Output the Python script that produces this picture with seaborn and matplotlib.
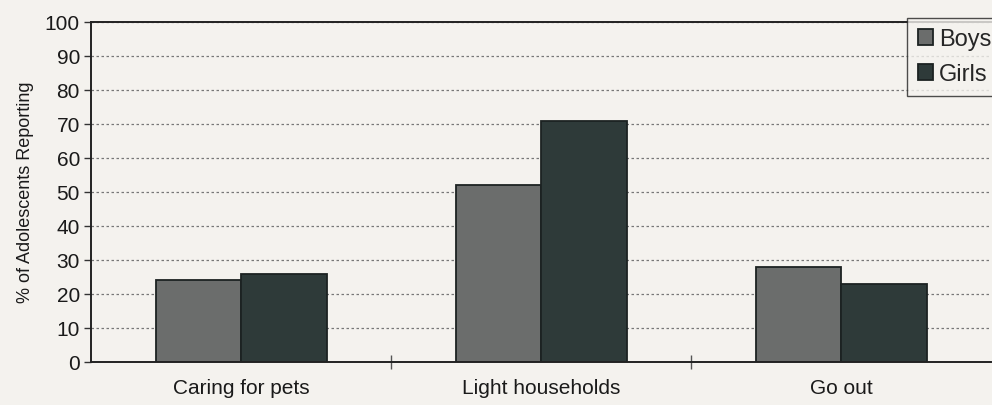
import matplotlib
matplotlib.use("Agg")
import matplotlib.pyplot as plt
import seaborn as sns
import pandas as pd
from matplotlib.ticker import FixedLocator

categories = ["Caring for pets", "Light households", "Go out"]
boys = [24, 52, 28]
girls = [26, 71, 23]
groups = ["Boys", "Girls"]
y_ticks = list(range(0, 101, 10))

df = pd.DataFrame({
    "Activity": categories * 2,
    "Group": [groups[0]] * len(categories) + [groups[1]] * len(categories),
    "Percent": boys + girls,
})

sns.set_theme(style="white")
plt.rcParams["font.family"] = ["Liberation Sans", "DejaVu Sans"]

bg = "#f4f2ee"
fig = plt.figure(figsize=(9.92, 4.05), dpi=100, facecolor=bg)
ax = fig.add_axes([91 / 992, 1 - 362 / 405, 900 / 992, 340 / 405])
ax.set_facecolor(bg)

palette = {"Boys": "#6b6d6c", "Girls": "#2e3a39"}
sns.barplot(data=df, x="Activity", y="Percent", hue="Group", order=categories,
            hue_order=groups, palette=palette, width=0.57, saturation=1,
            edgecolor="#1c2222", linewidth=1.3, ax=ax, legend=True)

ax.set_ylim(0, 100)
ax.set_xlim(-0.5, len(categories) - 0.5)
ax.set_yticks(y_ticks)
ax.set_yticklabels([str(t) for t in y_ticks], fontsize=15, color="#1a1a1a")
ax.yaxis.grid(True, linestyle=(0, (2, 2)), color="#777777", linewidth=0.9)
ax.set_axisbelow(True)
ax.tick_params(axis="y", direction="out", length=5, width=1, color="#333333", pad=3, left=True)
ax.tick_params(axis="x", which="major", length=0, labelsize=15, pad=12, labelcolor="#1a1a1a")
ax.xaxis.set_minor_locator(FixedLocator([0.5, 1.5]))
ax.tick_params(axis="x", which="minor", direction="inout", length=10, width=1, color="#555555", bottom=True)
ax.set_xlabel("")
ax.set_ylabel("% of Adolescents Reporting", fontsize=13, color="#1a1a1a", labelpad=8)

for side in ["top", "left", "bottom"]:
    ax.spines[side].set_visible(True)
    ax.spines[side].set_color("#222222")
    ax.spines[side].set_linewidth(1.4)
ax.spines["right"].set_visible(False)

handles, labels = ax.get_legend_handles_labels()
ax.get_legend().remove()
leg = fig.legend(handles, labels, loc="upper left", bbox_to_anchor=(907 / 992, 1 - 18 / 405),
                 fontsize=17, frameon=True, fancybox=False, edgecolor="#222222",
                 facecolor=bg, handlelength=0.65, handleheight=0.65, handletextpad=0.25,
                 borderpad=0.45, labelspacing=0.55, borderaxespad=0)
leg.get_frame().set_linewidth(1.0)

fig.savefig("out.png", dpi=100, facecolor=bg)
